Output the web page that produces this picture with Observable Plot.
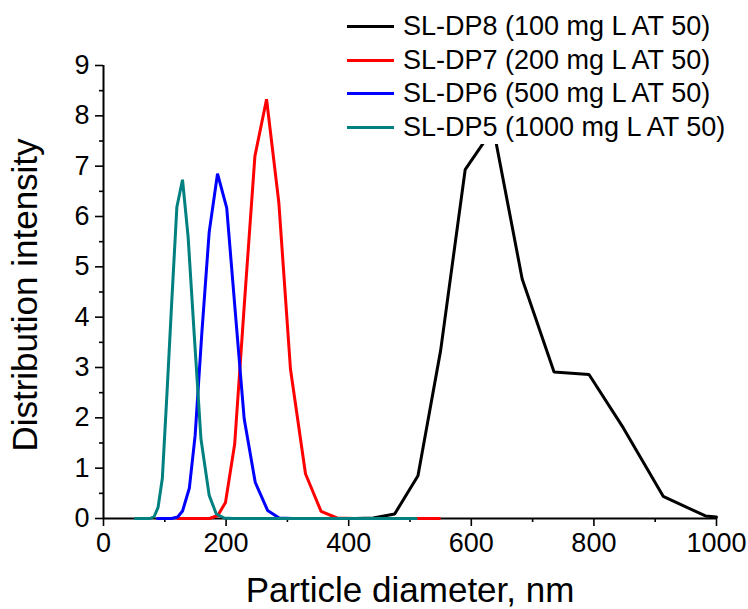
<!DOCTYPE html>
<html><head><meta charset="utf-8">
<script src="https://cdn.jsdelivr.net/npm/d3@7"></script>
<script src="https://cdn.jsdelivr.net/npm/@observablehq/plot@0.6"></script>
<style>
body{margin:0;background:#fff;}
#wrap{position:relative;width:748px;height:609px;font-family:"Liberation Sans",Arial,sans-serif;background:#fff;}
#wrap svg{font-family:"Liberation Sans",Arial,sans-serif;}
#legend{position:absolute;left:338px;top:10px;background:#fff;padding:0 4px 0 0;}
.row{display:flex;align-items:center;height:33.6px;font-size:27px;color:#000;white-space:nowrap;}
.sw{width:47px;height:3px;margin-left:9px;margin-right:9px;}
</style></head><body><div id="wrap"><div id="legend"></div></div>
<script>
const seriesNames = ["SL-DP8 (100 mg L AT 50)", "SL-DP7 (200 mg L AT 50)", "SL-DP6 (500 mg L AT 50)", "SL-DP5 (1000 mg L AT 50)"];
const seriesColors = ["#000000", "#ff0000", "#0000ff", "#008080"];

const dp8X = [380, 410, 440, 475, 513, 550, 590, 636, 683, 735, 792, 848, 913, 982, 1000];
const dp8Y = [0, 0, 0.01, 0.09, 0.85, 3.34, 6.93, 7.75, 4.76, 2.91, 2.86, 1.8, 0.44, 0.05, 0.03];

const dp7X = [121, 130, 140, 150, 161, 173, 186.5, 199, 214, 230, 247, 266, 286, 305, 329.5, 355, 381, 410, 440, 472, 507, 548];
const dp7Y = [0, 0, 0, 0, 0, 0, 0.06, 0.32, 1.48, 4.3, 7.2, 8.33, 6.28, 2.97, 0.89, 0.14, 0.01, 0, 0, 0, 0, 0];

const dp6X = [88, 95, 103, 111, 121, 129, 140, 149.5, 160.5, 172.4, 186, 201, 215, 229.5, 247.5, 267.7, 286.6, 308, 331, 356, 382, 410, 440];
const dp6Y = [0, 0, 0, 0, 0.03, 0.15, 0.6, 1.65, 3.7, 5.69, 6.85, 6.17, 4.1, 1.98, 0.72, 0.16, 0.01, 0, 0, 0, 0, 0, 0];

const dp5X = [52, 56, 60, 65, 70, 76, 82.7, 89, 96, 103.6, 111.3, 119.7, 128.9, 138, 148.3, 159, 172.4, 184, 197, 212, 228, 245, 263, 283, 304, 327, 351, 377, 405, 435, 467, 510];
const dp5Y = [0, 0, 0, 0, 0, 0, 0.04, 0.22, 0.8, 2.5, 4.3, 6.19, 6.73, 5.6, 3.6, 1.58, 0.46, 0.09, 0.01, 0, 0, 0, 0, 0, 0, 0, 0, 0, 0, 0, 0, 0];

const xTicks = [0, 200, 400, 600, 800, 1000];
const xMinor = [100, 300, 500, 700, 900];
const yTicks = [0, 1, 2, 3, 4, 5, 6, 7, 8, 9];
const yMinor = [0.5, 1.5, 2.5, 3.5, 4.5, 5.5, 6.5, 7.5, 8.5];
const xTitle = "Particle diameter, nm";
const yTitle = "Distribution intensity";

const allX = [dp8X, dp7X, dp6X, dp5X];
const allY = [dp8Y, dp7Y, dp6Y, dp5Y];
const series = seriesNames.map((name, i) => ({
  name, color: seriesColors[i],
  rows: allX[i].map((x, j) => ({x, y: allY[i][j]}))
}));

const fmt = d => String(d);
const xDomain = [xTicks[0], xTicks[xTicks.length - 1]];
const yDomain = [yTicks[0], yTicks[yTicks.length - 1]];
const chart = Plot.plot({
  width: 748, height: 609,
  marginLeft: 103, marginRight: 32, marginTop: 65, marginBottom: 91,
  x: {domain: xDomain},
  y: {domain: yDomain},
  marks: [
    Plot.axisX(xTicks, {tickSize: 8, tickPadding: 6, fontSize: 27, strokeWidth: 1.6, tickFormat: fmt, label: null}),
    Plot.axisX(xMinor, {tickSize: 4, tickFormat: () => "", strokeWidth: 1.6, label: null}),
    Plot.axisY(yTicks, {tickSize: 8, tickPadding: 6, fontSize: 27, strokeWidth: 1.6, tickFormat: fmt, label: null}),
    Plot.axisY(yMinor, {tickSize: 4, tickFormat: () => "", strokeWidth: 1.6, label: null}),
    Plot.ruleY(yDomain.slice(0, 1), {stroke: "black", strokeWidth: 2}),
    ...series.map(s => Plot.line(s.rows, {x: "x", y: "y", stroke: s.color, strokeWidth: 3, strokeLinejoin: "miter"})),
    Plot.ruleX(xDomain.slice(0, 1), {stroke: "black", strokeWidth: 2}),
    Plot.text([xTitle], {frameAnchor: "bottom", dy: 83, fontSize: 35, fill: "black"}),
    Plot.text([yTitle], {frameAnchor: "left", textAnchor: "middle", dx: -78, dy: 3, rotate: -90, fontSize: 35, fill: "black"})
  ]
});
chart.style.color = "black";
document.getElementById("wrap").prepend(chart);

const legend = document.getElementById("legend");
series.forEach(s => {
  const row = document.createElement("div");
  row.className = "row";
  const sw = document.createElement("span");
  sw.className = "sw";
  sw.style.background = s.color;
  const t = document.createElement("span");
  t.textContent = s.name;
  row.append(sw, t);
  legend.append(row);
});
</script>
</body></html>
